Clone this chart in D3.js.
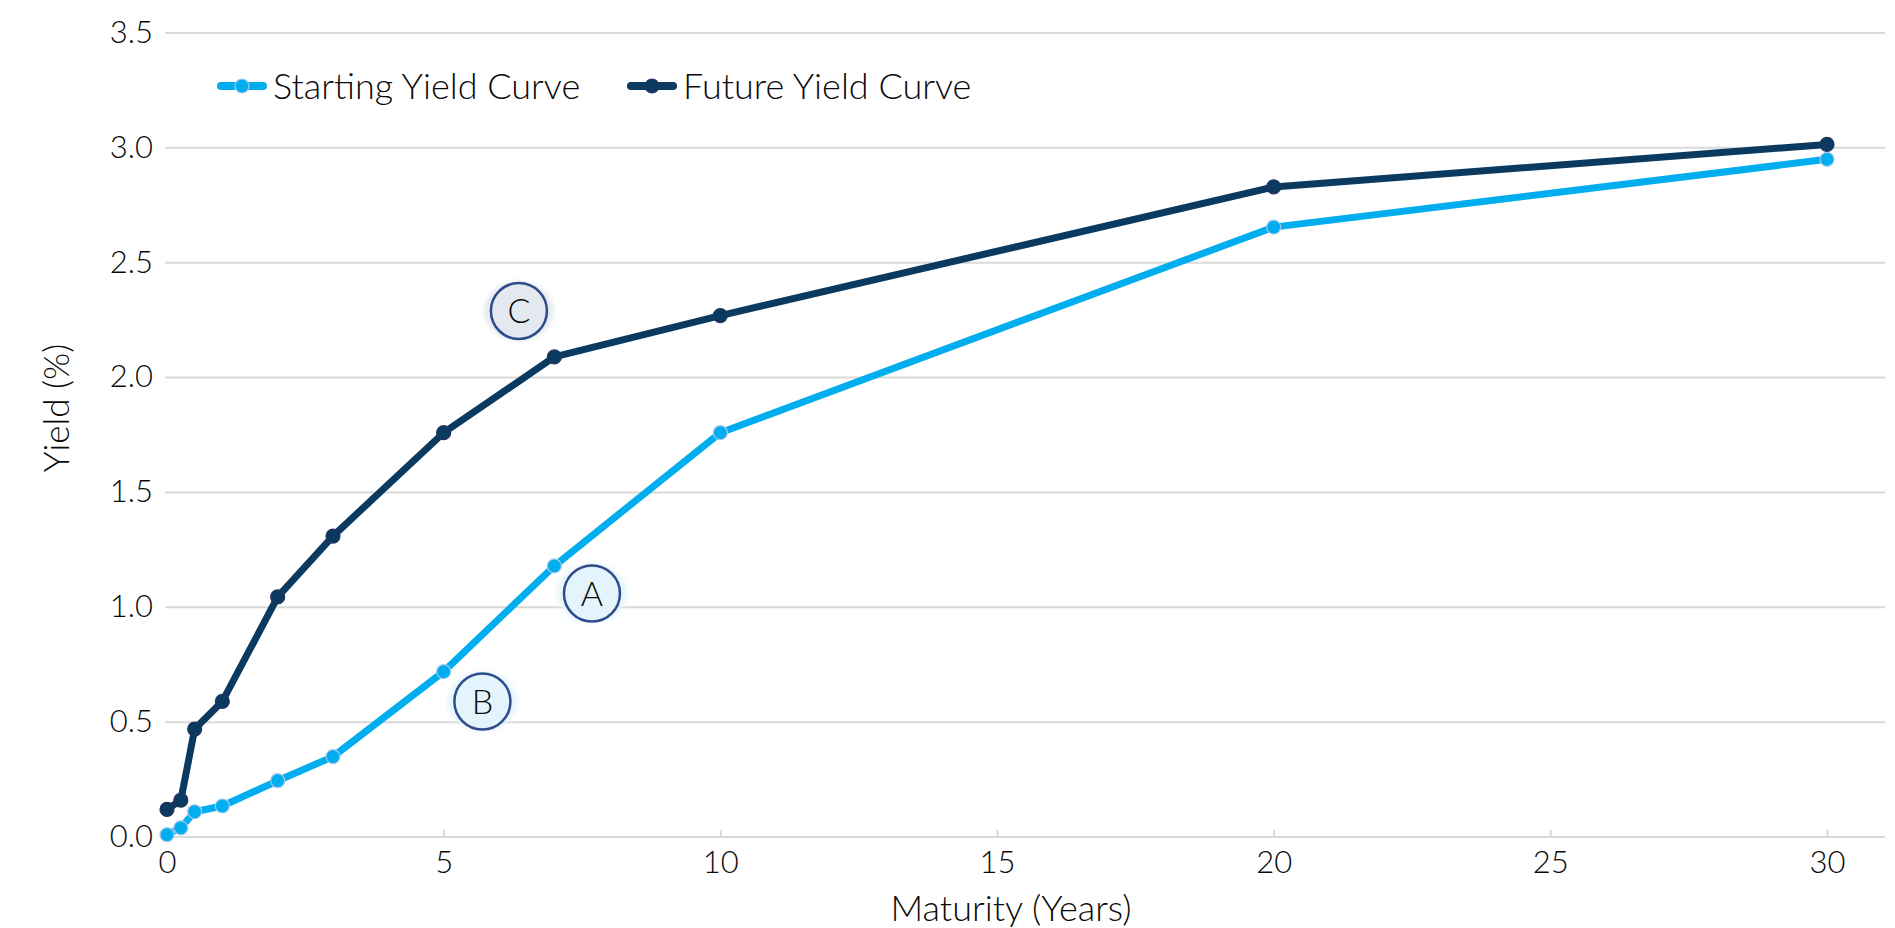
<!DOCTYPE html>
<html>
<head>
<meta charset="utf-8">
<script src="https://cdn.jsdelivr.net/npm/d3@7"></script>
<style>
  html, body { margin: 0; padding: 0; background: #fff; }
  svg { display: block; font-family: Lato, "Open Sans", sans-serif; font-weight: 300; }
</style>
</head>
<body>
<svg id="chart" width="1895" height="928"></svg>
<script>
// ---- data ----
const maturities = [0, 0.25, 0.5, 1, 2, 3, 5, 7, 10, 20, 30];
const startingYield = [0.01, 0.04, 0.11, 0.135, 0.245, 0.35, 0.72, 1.18, 1.76, 2.655, 2.95];
const futureYield = [0.12, 0.16, 0.47, 0.59, 1.045, 1.31, 1.76, 2.09, 2.27, 2.83, 3.015];
const seriesNames = ["Starting Yield Curve", "Future Yield Curve"];
const yTicks = [0, 0.5, 1.0, 1.5, 2.0, 2.5, 3.0, 3.5];
const xTicks = [0, 5, 10, 15, 20, 25, 30];
const annotationLabels = ["C", "A", "B"];
const annotationX = [6.36, 7.68, 5.70];
const annotationY = [2.29, 1.06, 0.59];
const xTitle = "Maturity (Years)";
const yTitle = "Yield (%)";

// ---- layout ----
const svg = d3.select("#chart");
const x = d3.scaleLinear().domain([0, 30]).range([167, 1827]);
const y = d3.scaleLinear().domain([0, 3.5]).range([837, 33]);
const gridLeft = 165, gridRight = 1885;
const colors = ["#00aeef", "#0b3a60"];
const markerStroke = ["#a9c6ee", "#23345e"];
const textColor = "#0a0a0a";

// defs
const defs = svg.append("defs");
defs.append("filter").attr("id", "blur").attr("x", "-30%").attr("y", "-30%").attr("width", "160%").attr("height", "160%")
  .append("feGaussianBlur").attr("stdDeviation", 2);

// gridlines
svg.append("g").selectAll("line").data(yTicks).join("line")
  .attr("x1", gridLeft).attr("x2", gridRight)
  .attr("y1", d => y(d)).attr("y2", d => y(d))
  .attr("stroke", "#d9d9d9").attr("stroke-width", 2);

// y axis labels
const yAxis = d3.axisLeft(y).tickValues(yTicks).tickFormat(d3.format(".1f")).tickSize(0).tickPadding(0);
const gy = svg.append("g").attr("transform", "translate(153,0)").call(yAxis);
gy.select(".domain").remove();
gy.selectAll("text").attr("font-size", 31).attr("font-family", "Lato, sans-serif").attr("font-weight", 300).attr("fill", textColor).attr("dy", "0.30em");

// x axis
const xAxis = d3.axisBottom(x).tickValues(xTicks).tickFormat(d3.format("d")).tickSize(-7).tickPadding(14);
const gx = svg.append("g").attr("transform", `translate(0,${y(0)})`).call(xAxis);
gx.select(".domain").remove();
gx.selectAll(".tick line").attr("stroke", "#d9d9d9").attr("stroke-width", 2);
gx.selectAll("text").attr("font-size", 31).attr("font-family", "Lato, sans-serif").attr("font-weight", 300).attr("fill", textColor).attr("dy", "0.71em");

// axis titles
svg.append("text").attr("x", 1011).attr("y", 921).attr("text-anchor", "middle")
  .attr("font-size", 36).attr("fill", textColor).text(xTitle);
svg.append("text").attr("transform", "translate(57,408) rotate(-90)").attr("text-anchor", "middle")
  .attr("dy", "0.35em").attr("font-size", 35).attr("fill", textColor).text(yTitle);

// lines
const seriesData = [startingYield, futureYield].map(vals => maturities.map((m, i) => ({ m, v: vals[i] })));
const line = d3.line().x(d => x(d.m)).y(d => y(d.v));
seriesData.forEach((data, s) => {
  const g = svg.append("g");
  g.append("path").datum(data).attr("d", line).attr("fill", "none")
    .attr("stroke", colors[s]).attr("stroke-width", 7).attr("stroke-linejoin", "round").attr("stroke-linecap", "round");
  g.selectAll("circle").data(data).join("circle")
    .attr("cx", d => x(d.m)).attr("cy", d => y(d.v)).attr("r", 7)
    .attr("fill", colors[s]).attr("stroke", markerStroke[s]).attr("stroke-width", 1.2);
});

// annotations
const annFill = ["#e4e9ef", "#e3f4fc", "#e3f4fc"];
annotationLabels.forEach((lab, i) => {
  const cx = x(annotationX[i]), cy = y(annotationY[i]);
  const g = svg.append("g");
  g.append("ellipse").attr("cx", cx).attr("cy", cy).attr("rx", 35).attr("ry", 30)
    .attr("fill", annFill[i]).attr("opacity", 0.9).attr("filter", "url(#blur)");
  g.append("circle").attr("cx", cx).attr("cy", cy).attr("r", 28)
    .attr("fill", annFill[i]).attr("stroke", "#2e4b8c").attr("stroke-width", 2.5);
  g.append("text").attr("x", cx).attr("y", cy).attr("dy", "0.36em").attr("text-anchor", "middle")
    .attr("font-size", 34).attr("fill", textColor).text(lab);
});

// legend
const legendX = [221, 631];
seriesNames.forEach((name, s) => {
  const g = svg.append("g").attr("transform", `translate(${legendX[s]},86)`);
  g.append("line").attr("x1", 0).attr("x2", 42).attr("y1", 0).attr("y2", 0)
    .attr("stroke", colors[s]).attr("stroke-width", 8).attr("stroke-linecap", "round");
  g.append("circle").attr("cx", 21).attr("cy", 0).attr("r", 7)
    .attr("fill", colors[s]).attr("stroke", markerStroke[s]).attr("stroke-width", 1.2);
  g.append("text").attr("x", 52).attr("y", 0).attr("dy", "0.35em")
    .attr("font-size", 36).attr("fill", textColor).text(name);
});
</script>
</body>
</html>
